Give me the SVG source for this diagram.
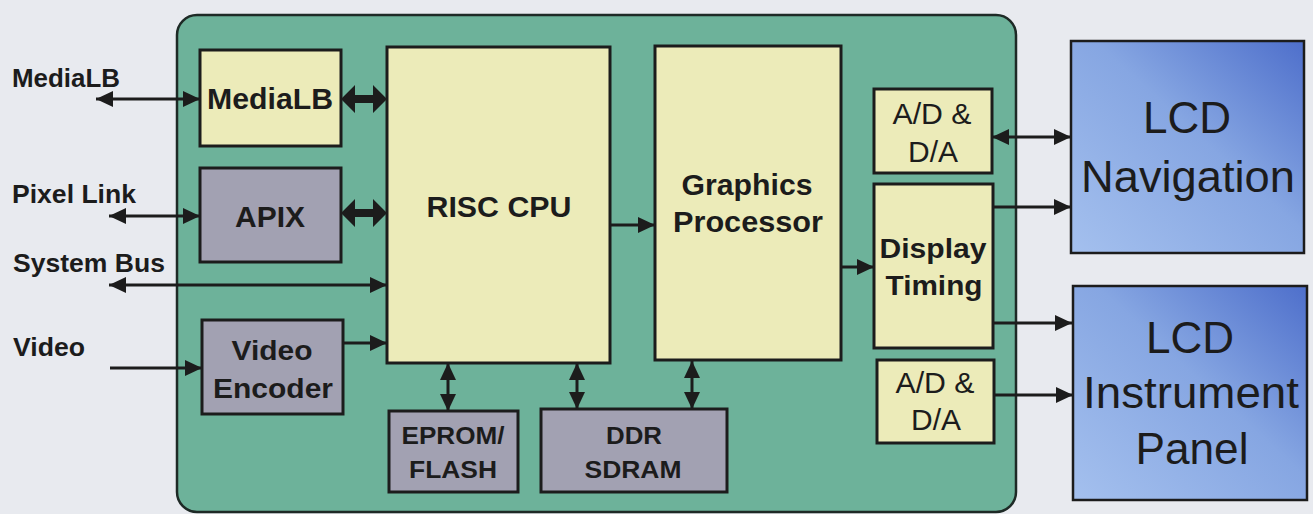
<svg xmlns="http://www.w3.org/2000/svg" width="1313" height="514" viewBox="0 0 1313 514">
<style>
.bg{fill:#e8eaef}
.frame{fill:#6db29a;stroke:#1e2a26;stroke-width:2.5}
.yel{fill:#ecebb9;stroke:#1c1c1c;stroke-width:3}
.gry{fill:#a2a1b2;stroke:#1c1c1c;stroke-width:3}
.lcd{fill:url(#blue);stroke:#1c1c1c;stroke-width:2.5}
text{font-family:"Liberation Sans",Arial,sans-serif;fill:#1c1c1c}
.b{font-weight:bold;text-anchor:middle}
.r{text-anchor:middle}
.lbl{font-weight:bold;font-size:25px}
.w{stroke:#1c1c1c;stroke-width:3;fill:none}
.s{marker-end:url(#ah)}
.d{marker-start:url(#ah);marker-end:url(#ah)}
.thick{fill:#1c1c1c}
</style>
<defs>
<linearGradient id="blue" x1="0" y1="1" x2="1" y2="0">
<stop offset="0" stop-color="#a4c0ee"/>
<stop offset="0.55" stop-color="#86a6e2"/>
<stop offset="1" stop-color="#4e6fcb"/>
</linearGradient>
<marker id="ah" markerUnits="userSpaceOnUse" markerWidth="18" markerHeight="18" refX="17" refY="9" orient="auto-start-reverse">
<path d="M0,1 L17,9 L0,17 z" fill="#1c1c1c"/>
</marker>
</defs>
<rect class="bg" x="0" y="0" width="1313" height="514"/>
<g id="board"><rect class="frame" x="177" y="15" width="839" height="497" rx="20"/></g>

<g id="connectors">
<line class="w d" x1="96" y1="99" x2="200" y2="99"/>
<line class="w d" x1="109" y1="216" x2="200" y2="216"/>
<line class="w d" x1="109" y1="285" x2="387" y2="285"/>
<line class="w s" x1="110" y1="368" x2="202" y2="368"/>
<line class="w s" x1="343" y1="343" x2="387" y2="343"/>
<line class="w s" x1="610" y1="225" x2="655" y2="225"/>
<line class="w s" x1="841" y1="267" x2="874" y2="267"/>
<line class="w d" x1="992" y1="137" x2="1071" y2="137"/>
<line class="w s" x1="993" y1="207" x2="1071" y2="207"/>
<line class="w s" x1="993" y1="323" x2="1072" y2="323"/>
<line class="w s" x1="994" y1="395" x2="1073" y2="395"/>
<line class="w d" x1="448" y1="363" x2="448" y2="411"/>
<line class="w d" x1="577" y1="363" x2="577" y2="409"/>
<line class="w d" x1="692" y1="361" x2="692" y2="409"/>
<polygon class="thick" points="341,99 355,85 355,95 373,95 373,85 387,99 373,113 373,103 355,103 355,113"/>
<polygon class="thick" points="341,213 355,199 355,209 373,209 373,199 387,213 373,227 373,217 355,217 355,227"/>
</g>

<g id="labels">
<text class="lbl" x="12" y="87" textLength="108" lengthAdjust="spacingAndGlyphs">MediaLB</text>
<text class="lbl" x="12" y="203" textLength="124" lengthAdjust="spacingAndGlyphs">Pixel Link</text>
<text class="lbl" x="13" y="272" textLength="152" lengthAdjust="spacingAndGlyphs">System Bus</text>
<text class="lbl" x="13" y="356" textLength="72" lengthAdjust="spacingAndGlyphs">Video</text>
</g>

<g id="medialb"><rect class="yel" x="200" y="50" width="141" height="96"/><text class="b" x="270" y="109" font-size="29" textLength="126" lengthAdjust="spacingAndGlyphs">MediaLB</text></g>
<g id="apix"><rect class="gry" x="200" y="168" width="141" height="94"/><text class="b" x="270" y="227" font-size="30" textLength="70" lengthAdjust="spacingAndGlyphs">APIX</text></g>
<g id="video-encoder"><rect class="gry" x="202" y="320" width="141" height="94"/><text class="b" x="272" y="360" font-size="28" textLength="81" lengthAdjust="spacingAndGlyphs">Video</text><text class="b" x="273" y="398" font-size="28" textLength="120" lengthAdjust="spacingAndGlyphs">Encoder</text></g>
<g id="risc-cpu"><rect class="yel" x="387" y="47" width="223" height="316"/><text class="b" x="499" y="217" font-size="29" textLength="145" lengthAdjust="spacingAndGlyphs">RISC CPU</text></g>
<g id="graphics"><rect class="yel" x="655" y="46" width="186" height="314"/><text class="b" x="747" y="195" font-size="29" textLength="131" lengthAdjust="spacingAndGlyphs">Graphics</text><text class="b" x="748" y="232" font-size="29" textLength="150" lengthAdjust="spacingAndGlyphs">Processor</text></g>
<g id="eprom"><rect class="gry" x="389" y="411" width="129" height="81"/><text class="b" x="453" y="444" font-size="24" textLength="103" lengthAdjust="spacingAndGlyphs">EPROM/</text><text class="b" x="453" y="478" font-size="24" textLength="88" lengthAdjust="spacingAndGlyphs">FLASH</text></g>
<g id="ddr"><rect class="gry" x="541" y="409" width="186" height="83"/><text class="b" x="634" y="444" font-size="24" textLength="56" lengthAdjust="spacingAndGlyphs">DDR</text><text class="b" x="633" y="478" font-size="24" textLength="97" lengthAdjust="spacingAndGlyphs">SDRAM</text></g>
<g id="ad-top"><rect class="yel" x="874" y="89" width="118" height="84"/><text class="r" x="932" y="124" font-size="29" textLength="79" lengthAdjust="spacingAndGlyphs">A/D &amp;</text><text class="r" x="933" y="162" font-size="29" textLength="50" lengthAdjust="spacingAndGlyphs">D/A</text></g>
<g id="display-timing"><rect class="yel" x="874" y="184" width="119" height="164"/><text class="b" x="933" y="258" font-size="28" textLength="107" lengthAdjust="spacingAndGlyphs">Display</text><text class="b" x="934" y="295" font-size="28" textLength="97" lengthAdjust="spacingAndGlyphs">Timing</text></g>
<g id="ad-bottom"><rect class="yel" x="877" y="360" width="117" height="83"/><text class="r" x="935" y="393" font-size="29" textLength="79" lengthAdjust="spacingAndGlyphs">A/D &amp;</text><text class="r" x="936" y="430" font-size="29" textLength="50" lengthAdjust="spacingAndGlyphs">D/A</text></g>
<g id="lcd-nav"><rect class="lcd" x="1071" y="41" width="233" height="212"/><text class="r" x="1187" y="133" font-size="44" textLength="88" lengthAdjust="spacingAndGlyphs">LCD</text><text class="r" x="1188" y="192" font-size="44" textLength="214" lengthAdjust="spacingAndGlyphs">Navigation</text></g>
<g id="lcd-inst"><rect class="lcd" x="1073" y="286" width="234" height="214"/><text class="r" x="1190" y="353" font-size="44" textLength="88" lengthAdjust="spacingAndGlyphs">LCD</text><text class="r" x="1191" y="408" font-size="44" textLength="216" lengthAdjust="spacingAndGlyphs">Instrument</text><text class="r" x="1192" y="464" font-size="44" textLength="113" lengthAdjust="spacingAndGlyphs">Panel</text></g>
</svg>
